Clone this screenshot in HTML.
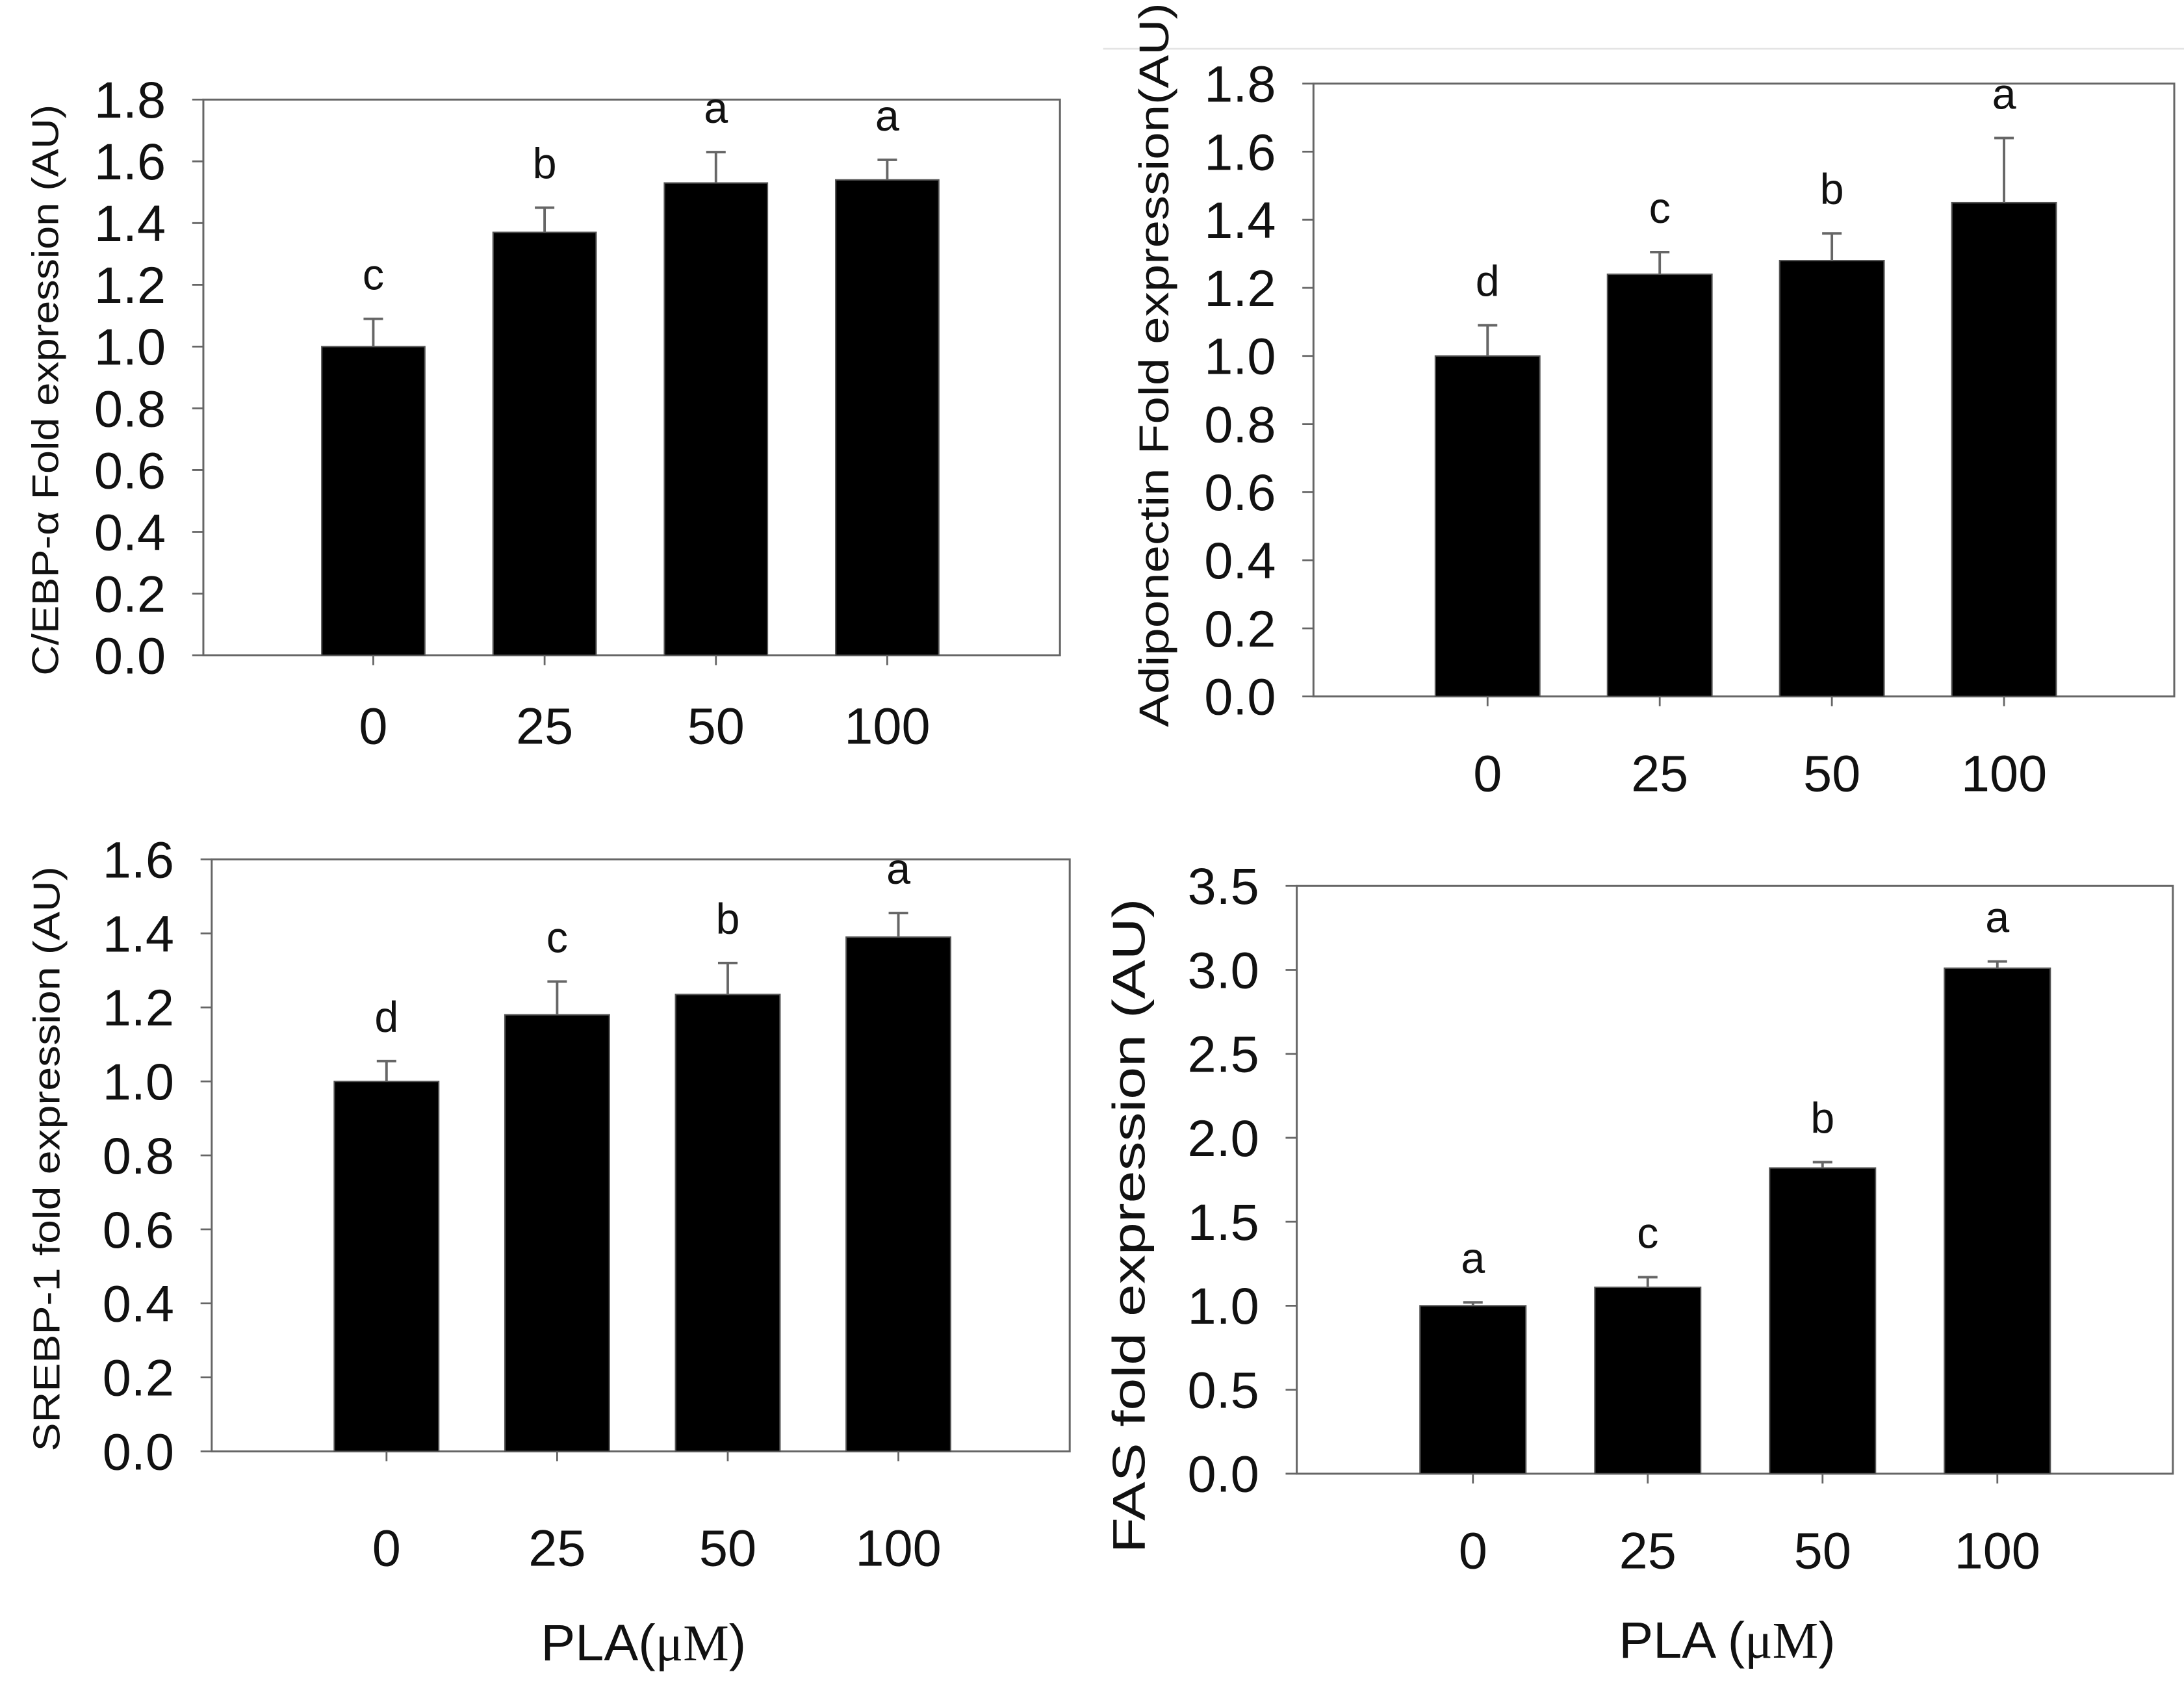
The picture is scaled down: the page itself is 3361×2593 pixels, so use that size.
<!DOCTYPE html>
<html><head><meta charset="utf-8"><style>
html,body{margin:0;padding:0;background:#fff;}
svg{display:block;}
text{font-family:"Liberation Sans",Arial,sans-serif;fill:#111;}
</style></head><body>
<svg id="fig" width="3361" height="2593" viewBox="0 0 1568 1209.7" xmlns="http://www.w3.org/2000/svg">
<rect x="0" y="0" width="1568" height="1209.7" fill="#fff"/>
<line x1="792" y1="35" x2="1568" y2="35" stroke="#e4e4e4" stroke-width="1.2"/>
</svg>
<script>
const categories = ["0","25","50","100"];
const cebpValues = [1.0, 1.37, 1.53, 1.54];
const cebpErrors = [0.09, 0.08, 0.10, 0.065];
const cebpLetters = ["c","b","a","a"];
const cebpTicks = ["0.0","0.2","0.4","0.6","0.8","1.0","1.2","1.4","1.6","1.8"];
const adipoValues = [1.0, 1.24, 1.28, 1.45];
const adipoErrors = [0.09, 0.065, 0.08, 0.19];
const adipoLetters = ["d","c","b","a"];
const adipoTicks = ["0.0","0.2","0.4","0.6","0.8","1.0","1.2","1.4","1.6","1.8"];
const srebpValues = [1.0, 1.18, 1.235, 1.39];
const srebpErrors = [0.055, 0.09, 0.085, 0.065];
const srebpLetters = ["d","c","b","a"];
const srebpTicks = ["0.0","0.2","0.4","0.6","0.8","1.0","1.2","1.4","1.6"];
const fasValues = [1.0, 1.11, 1.82, 3.01];
const fasErrors = [0.02, 0.06, 0.035, 0.04];
const fasLetters = ["a","c","b","a"];
const fasTicks = ["0.0","0.5","1.0","1.5","2.0","2.5","3.0","3.5"];

const NS = "http://www.w3.org/2000/svg";
const svg = document.getElementById("fig");
function mk(tag, attrs, parent){
  const e = document.createElementNS(NS, tag);
  for (const k in attrs) e.setAttribute(k, attrs[k]);
  (parent||svg).appendChild(e);
  return e;
}

const panels = [
  {id:"cebp", values:cebpValues, errors:cebpErrors, letters:cebpLetters, ticks:cebpTicks, ymax:1.8,
   left:146, right:761, top:71.5, bottom:470.5, barW:74, firstX:268, step:123,
   tickLabelX:119, fs:37, catY:534, ytitle:"C/EBP-α Fold expression (AU)", ytx:32, yty:280, ytLen:410, ytfs:27},
  {id:"adiponectin", values:adipoValues, errors:adipoErrors, letters:adipoLetters, ticks:adipoTicks, ymax:1.8,
   left:943, right:1561, top:60, bottom:500, barW:75, firstX:1068, step:123.6,
   tickLabelX:916, fs:37, catY:568, ytitle:"Adiponectin Fold expression(AU)", ytx:828, yty:262, ytLen:520, ytfs:30},
  {id:"srebp", values:srebpValues, errors:srebpErrors, letters:srebpLetters, ticks:srebpTicks, ymax:1.6,
   left:152, right:768, top:617, bottom:1042, barW:75, firstX:277.5, step:122.5,
   tickLabelX:125, fs:37, catY:1124, ytitle:"SREBP-1 fold expression (AU)", ytx:33, yty:832, ytLen:420, ytfs:27,
   xtitle:"PLA(", xtx:462, xty:1192},
  {id:"fas", values:fasValues, errors:fasErrors, letters:fasLetters, ticks:fasTicks, ymax:3.5,
   left:931, right:1560, top:636, bottom:1058, barW:76, firstX:1057.5, step:125.5,
   tickLabelX:904, fs:37, catY:1126, ytitle:"FAS fold expression (AU)", ytx:810, yty:880, ytLen:470, ytfs:33,
   xtitle:"PLA (", xtx:1240, xty:1190}
];

panels.forEach(p => {
  const g = mk("g", {});
  
  
  const ys = v => p.bottom - (v / p.ymax) * (p.bottom - p.top);
  const xs = i => p.firstX + i * p.step;
  const fr = mk("rect", {x:p.left, y:p.top, width:p.right-p.left, height:p.bottom-p.top, fill:"none", stroke:"#666", "stroke-width":1.4}, g);
  
  
  p.ticks.forEach(t => {
    const v = parseFloat(t);
    const y = ys(v);
    const tl = mk("line", {x1:p.left-8, y1:y, x2:p.left, y2:y, stroke:"#666", "stroke-width":1.3}, g);
    
    
    const tx = mk("text", {x:p.tickLabelX, y:y+13, "font-size":p.fs, "text-anchor":"end"}, g);
    tx.textContent = t;
    
    
  });
  p.values.forEach((v, i) => {
    const cx = xs(i);
    const yTop = ys(v);
    const b = mk("rect", {x:cx - p.barW/2, y:yTop, width:p.barW, height:p.bottom - yTop, fill:"#000", stroke:"#555", "stroke-width":1}, g);
    
    
    const ye = ys(v + p.errors[i]);
    const el = mk("path", {d:`M${cx},${yTop} V${ye} M${cx-7},${ye} H${cx+7}`, stroke:"#666", "stroke-width":1.8, fill:"none"}, g);
    
    
    const lt = mk("text", {x:cx, y:ye - 21, "font-size":31, "text-anchor":"middle"}, g);
    lt.textContent = p.letters[i];
    
    
    const xt = mk("line", {x1:cx, y1:p.bottom, x2:cx, y2:p.bottom+7, stroke:"#666", "stroke-width":1.3}, g);
    
    
    const cl = mk("text", {x:cx, y:p.catY, "font-size":p.fs, "text-anchor":"middle"}, g);
    cl.textContent = categories[i];
    
    
  });
  const yt = mk("text", {x:0, y:0, "font-size":p.ytfs, "text-anchor":"middle", textLength:p.ytLen, lengthAdjust:"spacingAndGlyphs",
    transform:`translate(${p.ytx + p.ytfs*0.36},${p.yty}) rotate(-90)`}, g);
  yt.textContent = p.ytitle;
  
  
  if (p.xtitle) {
    const xt = mk("text", {x:p.xtx, y:p.xty, "font-size":37, "text-anchor":"middle"}, g);
    
    
    const t1 = mk("tspan", {}, xt); t1.textContent = p.xtitle;
    const t2 = mk("tspan", {"font-family":"Liberation Serif, serif"}, xt); t2.textContent = "μM";
    const t3 = mk("tspan", {}, xt); t3.textContent = ")";
  }
});
</script>
</body></html>
